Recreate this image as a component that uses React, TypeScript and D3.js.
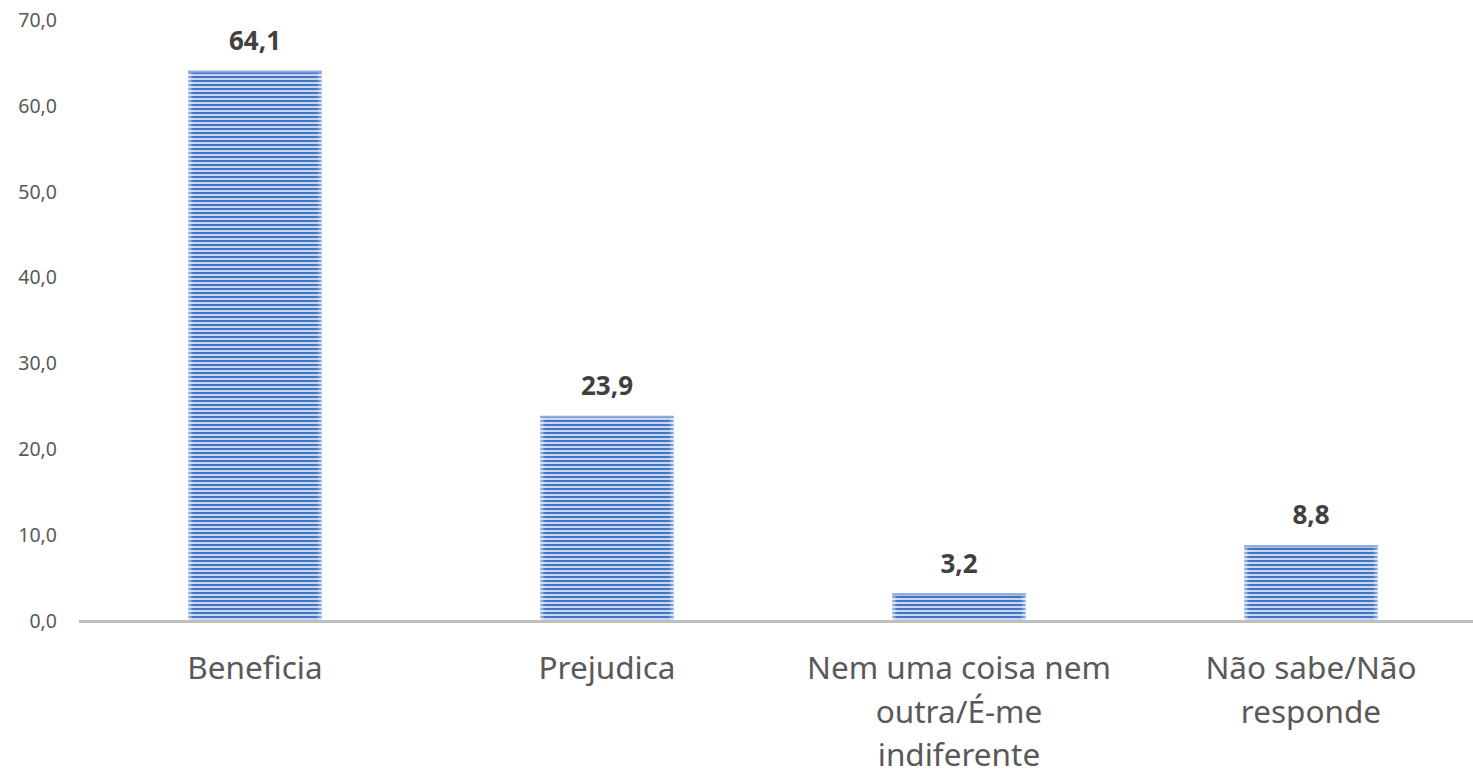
import React from "react";
import * as d3 from "d3";

const categories: string[][] = [
  ["Beneficia"],
  ["Prejudica"],
  ["Nem uma coisa nem", "outra/É-me", "indiferente"],
  ["Não sabe/Não", "responde"],
];
const values: number[] = [64.1, 23.9, 3.2, 8.8];
const yTicks: number[] = [0, 10, 20, 30, 40, 50, 60, 70];

const W = 1473;
const H = 774;
const fmt = (v: number) => v.toFixed(1).replace(".", ",");

export default function App() {
  const x = d3
    .scaleBand<number>()
    .domain(values.map((_, i) => i))
    .range([79, 1487])
    .paddingInner(0.62)
    .paddingOuter(0.31);
  const y = d3.scaleLinear().domain([0, 70]).range([621, 20]);
  const font = "'Noto Sans', 'Open Sans', sans-serif";
  return (
    <svg
      width={W}
      height={H}
      style={{ position: "absolute", left: 0, top: 0, background: "#fff" }}
    >
      <defs>
        <pattern id="stripes" width={4} height={4} patternUnits="userSpaceOnUse">
          <rect width={4} height={4} fill="#C9D6F0" />
          <rect width={4} height={2} fill="#4472C4" />
        </pattern>
        <linearGradient id="edge" x1="0" x2="1" y1="0" y2="0">
          <stop offset="0" stopColor="#fff" stopOpacity={0.55} />
          <stop offset="0.04" stopColor="#fff" stopOpacity={0} />
          <stop offset="0.96" stopColor="#fff" stopOpacity={0} />
          <stop offset="1" stopColor="#fff" stopOpacity={0.55} />
        </linearGradient>
      </defs>
      {yTicks.map((t) => (
        <text
          key={t}
          x={57}
          y={y(t)}
          dy="0.35em"
          textAnchor="end"
          fontFamily={font}
          fontSize={19.5}
          fill="#595959"
        >
          {fmt(t)}
        </text>
      ))}
      {values.map((v, i) => {
        const bx = x(i)!;
        const bw = x.bandwidth();
        const top = y(v);
        const h = y(0) - top;
        return (
          <g key={i}>
            <rect x={bx} y={top} width={bw} height={h} fill="url(#stripes)" />
            <rect x={bx} y={top} width={bw} height={h} fill="url(#edge)" />
            <rect x={bx} y={top} width={bw} height={2} fill="#8FAADC" />
            <text
              x={bx + bw / 2}
              y={top - 21}
              textAnchor="middle"
              fontFamily={font}
              fontSize={26}
              fontWeight="bold"
              fill="#404040"
            >
              {fmt(v)}
            </text>
            <text
              x={bx + bw / 2}
              y={679}
              textAnchor="middle"
              fontFamily={font}
              fontSize={31.5}
              fill="#595959"
            >
              {categories[i].map((line, j) => (
                <tspan key={j} x={bx + bw / 2} dy={j === 0 ? 0 : 43.5}>
                  {line}
                </tspan>
              ))}
            </text>
          </g>
        );
      })}
      <line x1={79} x2={W} y1={y(0) + 0.5} y2={y(0) + 0.5} stroke="#BFBFBF" strokeWidth={3} />
    </svg>
  );
}
